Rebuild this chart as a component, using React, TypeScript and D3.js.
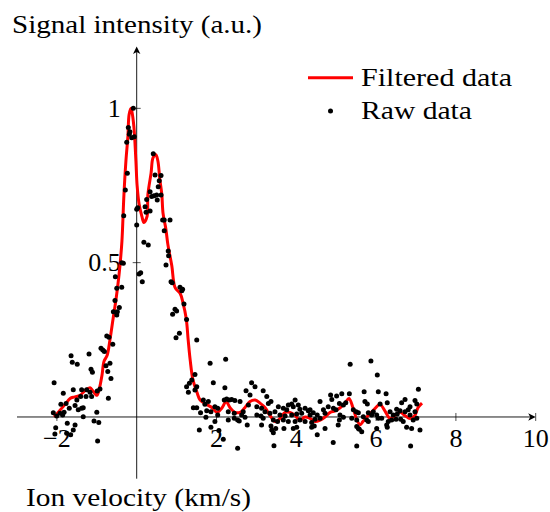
import * as d3 from 'd3';

// smoothed curve
const filtered: [number, number][] = [
  [-2.07, 0.0], [-1.8, 0.04], [-1.67, 0.06], [-1.55, 0.065], [-1.42, 0.07], [-1.3, 0.085],
  [-1.17, 0.095], [-1.1, 0.085], [-1.0, 0.07], [-0.94, 0.09], [-0.87, 0.135], [-0.82, 0.18],
  [-0.74, 0.2], [-0.67, 0.25], [-0.59, 0.32], [-0.52, 0.38], [-0.47, 0.43], [-0.42, 0.49],
  [-0.37, 0.57], [-0.32, 0.72], [-0.27, 0.83], [-0.22, 0.91], [-0.19, 0.98], [-0.14, 1.0],
  [-0.12, 0.99], [-0.07, 0.94], [-0.02, 0.83], [0.01, 0.75], [0.06, 0.69], [0.13, 0.65],
  [0.18, 0.63], [0.26, 0.65], [0.28, 0.72], [0.36, 0.79], [0.41, 0.84], [0.48, 0.85],
  [0.53, 0.83], [0.58, 0.77], [0.63, 0.72], [0.66, 0.66], [0.73, 0.61], [0.78, 0.56],
  [0.88, 0.49], [0.96, 0.42], [1.09, 0.4], [1.16, 0.37], [1.24, 0.32], [1.29, 0.25],
  [1.34, 0.185], [1.41, 0.12], [1.51, 0.08], [1.59, 0.055], [1.76, 0.04], [1.89, 0.03],
  [2.01, 0.015], [2.14, 0.03], [2.24, 0.05], [2.34, 0.03], [2.46, 0.015], [2.59, 0.015],
  [2.71, 0.03], [2.84, 0.05], [2.97, 0.055], [3.09, 0.045], [3.22, 0.03], [3.34, 0.005],
  [3.47, -0.015], [3.59, -0.005], [3.72, 0.015], [3.84, 0.015], [3.97, 0.005], [4.09, -0.01],
  [4.22, 0.0], [4.35, -0.005], [4.47, -0.015], [4.6, -0.01], [4.72, 0.0], [4.85, 0.015],
  [4.97, 0.02], [5.1, 0.03], [5.22, 0.045], [5.32, 0.06], [5.42, 0.03], [5.52, -0.01],
  [5.6, -0.025], [5.67, -0.015], [5.8, 0.005], [5.92, 0.02], [6.1, 0.04], [6.22, 0.02],
  [6.35, -0.005], [6.47, 0.005], [6.6, 0.015], [6.72, 0.005], [6.85, -0.005], [6.97, 0.005],
  [7.05, 0.03], [7.15, 0.045],
];

// raw measurement points
const raw: [number, number][] = [
  [-0.085, 1.0], [-0.21, 0.938], [-0.17, 0.924], [-0.185, 0.916], [-0.125, 0.905], [-0.06, 0.908],
  [-0.25, 0.89], [-0.235, 0.79], [-0.285, 0.735], [-0.325, 0.652],
  [0.415, 0.853], [0.46, 0.784], [0.61, 0.782], [0.565, 0.765], [0.54, 0.746], [0.335, 0.73],
  [0.5, 0.719], [0.435, 0.717], [0.375, 0.714], [0.61, 0.719], [0.515, 0.703], [0.25, 0.705],
  [0.21, 0.681], [0.335, 0.667], [0.235, 0.663], [0.0, 0.673], [0.025, 0.678], [0.0, 0.622],
  [0.65, 0.638], [0.69, 0.638], [0.835, 0.638], [0.69, 0.603], [0.18, 0.566], [0.29, 0.557],
  [0.79, 0.538],
  [-0.375, 0.5], [-0.335, 0.498], [-0.535, 0.454], [0.06, 0.463], [0.1, 0.467], [0.14, 0.438],
  [0.8, 0.522], [0.735, 0.492], [0.86, 0.438], [0.89, 0.435], [1.085, 0.42], [1.15, 0.414],
  [1.13, 0.409], [-0.5, 0.417], [-0.375, 0.42], [-0.545, 0.377], [-0.585, 0.341], [-0.485, 0.341],
  [-0.435, 0.355], [-0.5, 0.33], [1.185, 0.366], [0.96, 0.349], [1.0, 0.343], [0.9, 0.333],
  [1.25, 0.316], [1.07, 0.271], [0.985, 0.257], [1.505, 0.249], [-0.75, 0.262], [-0.695, 0.258],
  [-0.6, 0.236], [-0.895, 0.223], [-0.85, 0.217], [-0.81, 0.212], [-1.195, 0.204], [-1.645, 0.198],
  [-1.615, 0.177], [-1.49, 0.171], [-0.67, 0.174], [-0.77, 0.166], [-1.145, 0.155], [-1.11, 0.145],
  [-0.725, 0.147], [-0.645, 0.125], [-2.07, 0.111], [-1.59, 0.088], [-1.38, 0.088], [-1.255, 0.088],
  [-1.17, 0.08], [-0.92, 0.091], [-0.99, 0.084], [-1.84, 0.077], [-1.405, 0.066], [-1.27, 0.066],
  [-1.13, 0.066], [-1.5, 0.055], [-0.71, 0.061], [-1.9, 0.041], [-1.77, 0.044], [-1.545, 0.037],
  [-1.34, 0.03], [-1.38, 0.028], [-1.69, 0.028], [-1.465, 0.023], [-1.82, 0.015], [-1.92, 0.012],
  [-2.09, 0.014], [-2.005, 0.003], [-1.855, 0.006], [-1.0, 0.015], [-1.34, 0.001], [-1.07, -0.013],
  [-0.95, -0.018], [-2.03, -0.035], [-1.74, -0.02], [-1.545, -0.026], [-2.05, -0.055], [-1.59, -0.042],
  [-1.755, -0.053], [-1.655, -0.058], [-0.98, -0.078],
  [1.38, 0.12], [1.32, 0.109], [1.25, 0.098], [1.505, 0.098], [1.295, 0.08], [1.46, 0.087],
  [1.42, 0.03], [1.505, 0.03], [1.57, -0.042],
  [5.35, 0.171], [5.87, 0.181],
  [2.23, 0.187], [1.84, 0.174], [1.46, 0.138], [1.92, 0.111], [2.88, 0.111], [2.21, 0.095],
  [2.74, 0.085], [2.965, 0.098], [3.17, 0.085], [2.84, 0.071], [1.67, 0.055], [1.795, 0.05],
  [1.71, 0.041], [2.255, 0.058], [2.32, 0.055], [2.38, 0.057], [2.46, 0.053], [2.59, 0.05],
  [2.195, 0.055], [3.26, 0.066], [3.3, 0.044], [3.365, 0.05], [3.97, 0.055], [3.885, 0.042],
  [3.8, 0.039], [3.925, 0.033], [1.96, 0.033], [2.03, 0.028], [2.8, 0.039], [3.01, 0.033],
  [3.13, 0.028], [3.215, 0.017], [3.55, 0.033], [3.675, 0.028], [3.76, 0.023], [4.05, 0.039],
  [4.09, 0.025], [4.22, 0.028], [4.3, 0.02], [1.755, 0.02], [1.86, 0.017], [1.6, 0.014],
  [2.295, 0.017], [2.445, 0.012], [2.67, 0.017], [2.63, 0.006], [3.01, 0.006], [3.115, 0.003],
  [3.34, 0.012], [3.465, 0.017], [3.59, 0.006], [3.72, 0.003], [3.885, 0.006], [4.01, 0.01],
  [4.135, 0.012], [4.345, 0.006], [1.735, -0.001], [2.03, 0.006], [2.295, -0.01], [2.445, -0.004],
  [2.53, -0.01], [2.57, -0.013], [2.715, -0.001], [3.17, -0.004], [3.425, -0.01], [3.53, -0.015],
  [3.675, -0.01], [3.8, -0.015], [3.97, -0.015], [4.09, -0.01], [4.22, -0.015], [4.385, -0.018],
  [1.96, -0.015], [2.77, -0.026], [3.13, -0.026], [3.365, -0.029], [3.485, -0.037], [3.385, -0.042],
  [3.69, -0.037], [3.925, -0.037], [4.01, -0.033], [4.385, -0.033], [4.45, -0.029], [1.86, -0.033],
  [2.06, -0.044], [3.425, -0.051], [2.17, -0.072], [3.44, -0.093], [2.53, -0.101],
  [6.03, 0.136], [7.06, 0.09], [5.7, 0.082], [6.055, 0.082], [5.14, 0.075], [5.01, 0.068],
  [4.86, 0.071], [4.89, 0.057], [5.33, 0.075], [6.25, 0.075], [4.595, 0.05], [6.725, 0.057],
  [6.64, 0.046], [6.975, 0.053], [7.02, 0.042], [6.28, 0.046], [5.72, 0.05], [5.78, 0.042],
  [6.1, 0.042], [5.18, 0.039], [5.24, 0.046], [5.08, 0.044], [4.8, 0.033], [4.93, 0.028],
  [4.995, 0.023], [4.68, 0.023], [4.72, 0.012], [5.43, 0.023], [5.5, 0.017], [5.555, 0.014],
  [5.805, 0.014], [5.93, 0.017], [5.89, 0.006], [6.015, 0.006], [6.055, -0.004], [6.35, 0.017],
  [6.515, 0.025], [6.6, 0.02], [6.805, 0.023], [6.85, 0.033], [6.725, 0.017], [6.43, 0.006],
  [6.53, 0.01], [6.85, 0.006], [6.975, 0.017], [4.345, 0.023], [4.425, 0.014], [4.525, 0.006],
  [4.47, -0.007], [4.595, -0.004], [5.095, 0.006], [5.18, -0.001], [5.39, -0.004], [5.515, -0.01],
  [5.68, 0.001], [5.765, -0.01], [5.805, -0.015], [6.14, -0.004], [6.305, -0.015], [6.39, -0.01],
  [6.5, -0.007], [6.265, -0.026], [6.615, -0.007], [6.68, -0.015], [6.93, -0.01], [7.02, -0.004],
  [5.08, -0.01], [5.05, -0.026], [5.515, -0.031], [5.58, -0.04], [5.64, -0.048], [5.555, -0.037],
  [4.72, -0.037], [6.015, -0.037], [6.28, -0.033], [6.765, -0.033], [6.89, -0.037], [7.1, -0.042],
  [4.525, -0.058], [4.925, -0.083], [5.515, -0.094], [6.865, -0.094],
];

const xTicks = [-2, 2, 4, 6, 8, 10];
const yTicks = [0.5, 1];
const xLabel = 'Ion velocity (km/s)';
const yLabel = 'Signal intensity (a.u.)';
const legendLabels = ['Filtered data', 'Raw data'];

const W = 550;
const H = 512;
const FS = 26;
const FAMILY = 'Liberation Serif';

export default function App() {
  const x = d3.scaleLinear().domain([-3, 10]).range([17, 535.7]);
  const y = d3.scaleLinear().domain([-0.2, 1.2]).range([478.7, 46.6]);

  const line = d3
    .line<[number, number]>()
    .x((d) => x(d[0]))
    .y((d) => y(d[1]))
    .curve(d3.curveCatmullRom.alpha(0.5));

  const x0 = x(0);
  const y0 = y(0);
  const [xa, xb] = x.range();
  const [ya, yb] = y.range();
  const fmt = (t: number) => (t < 0 ? '\u2212' + Math.abs(t) : String(t));

  // stealth-like arrow heads
  const al = 7.5;
  const aw = 3.7;
  const notch = 5.5;

  return (
    <svg width={W} height={H} style={{ position: 'absolute', left: 0, top: 0, background: '#fff' }}>
      {/* axes */}
      <g stroke="#000" strokeWidth={0.9} fill="none">
        <line x1={xa} y1={y0} x2={xb - 3} y2={y0} />
        <line x1={x0} y1={ya} x2={x0} y2={yb + 3} />
        {xTicks.map((t) => (
          <line key={t} x1={x(t)} x2={x(t)} y1={y0 - 4} y2={y0 + 4} strokeWidth={0.7} />
        ))}
        {yTicks.map((t) => (
          <line key={t} x1={x0 - 4} x2={x0 + 4} y1={y(t)} y2={y(t)} strokeWidth={0.7} />
        ))}
      </g>
      <path
        d={`M${xb},${y0} L${xb - al},${y0 - aw} L${xb - notch},${y0} L${xb - al},${y0 + aw} Z`}
        fill="#000"
      />
      <path
        d={`M${x0},${yb} L${x0 - aw},${yb + al} L${x0},${yb + notch} L${x0 + aw},${yb + al} Z`}
        fill="#000"
      />

      {/* tick labels */}
      {xTicks.map((t) => (
        <text key={t} x={x(t)} y={447} textAnchor="middle" fontFamily={FAMILY} fontSize={FS}>
          {fmt(t)}
        </text>
      ))}
      {yTicks.map((t) => (
        <text key={t} x={x0 - 16} y={y(t) + 8.5} textAnchor="end" fontFamily={FAMILY} fontSize={FS}>
          {fmt(t)}
        </text>
      ))}

      {/* filtered curve */}
      <path d={line(filtered) ?? ''} fill="none" stroke="#ff0000" strokeWidth={3} strokeLinejoin="round" />

      {/* raw points */}
      <g fill="#000">
        {raw.map((d, i) => (
          <circle key={i} cx={x(d[0])} cy={y(d[1])} r={2.5} />
        ))}
      </g>

      {/* axis labels */}
      <text x={12} y={32.5} fontFamily={FAMILY} fontSize={FS} textLength={250} lengthAdjust="spacingAndGlyphs">
        {yLabel}
      </text>
      <text x={26} y={506} fontFamily={FAMILY} fontSize={FS} textLength={225} lengthAdjust="spacingAndGlyphs">
        {xLabel}
      </text>

      {/* legend */}
      <line x1={308} x2={353} y1={77.7} y2={77.7} stroke="#ff0000" strokeWidth={3} />
      <circle cx={330.5} cy={111} r={2.5} fill="#000" />
      <text x={361} y={86} fontFamily={FAMILY} fontSize={FS} textLength={151} lengthAdjust="spacingAndGlyphs">
        {legendLabels[0]}
      </text>
      <text x={361} y={119} fontFamily={FAMILY} fontSize={FS} textLength={111} lengthAdjust="spacingAndGlyphs">
        {legendLabels[1]}
      </text>
    </svg>
  );
}
